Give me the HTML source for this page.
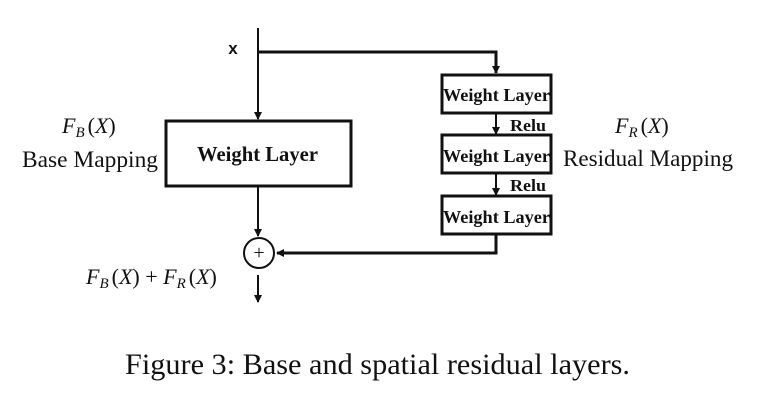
<!DOCTYPE html>
<html><head><style>body{margin:0;background:#fff}</style></head><body>
<svg width="761" height="405" xmlns="http://www.w3.org/2000/svg" style="display:block">
<defs><marker id="a" markerWidth="8" markerHeight="8" refX="7" refY="4" orient="auto" markerUnits="userSpaceOnUse"><path d="M0,0 L8,4 L0,8 z" fill="#111"/></marker></defs>
<g stroke="#111" fill="none">
<line x1="258" y1="28" x2="258" y2="119" stroke-width="2" marker-end="url(#a)"/>
<polyline points="258,52 496,52 496,73" stroke-width="3" marker-end="url(#a)"/>
<rect x="166" y="121" width="185" height="65" stroke-width="3"/>
<rect x="442" y="75" width="109" height="38" stroke-width="3"/>
<rect x="442" y="135" width="109" height="38" stroke-width="3"/>
<rect x="442" y="196" width="109" height="38" stroke-width="3"/>
<line x1="496" y1="113" x2="496" y2="134" stroke-width="2" marker-end="url(#a)"/>
<line x1="496" y1="173" x2="496" y2="195" stroke-width="2" marker-end="url(#a)"/>
<line x1="258" y1="186" x2="258" y2="236" stroke-width="2" marker-end="url(#a)"/>
<polyline points="496,234 496,253 277,253" stroke-width="3" marker-end="url(#a)"/>
<circle cx="259" cy="253" r="15" stroke-width="2"/>
<line x1="258" y1="275" x2="258" y2="302" stroke-width="2" marker-end="url(#a)"/>
</g>
<g font-family="Liberation Serif, serif" fill="#111">
<text x="259" y="259" font-size="20" text-anchor="middle">+</text>
<text x="233" y="54" font-family="Liberation Sans, sans-serif" font-weight="bold" font-size="17" text-anchor="middle">x</text>
<text x="197" y="161" font-weight="bold" font-size="21" textLength="121" lengthAdjust="spacingAndGlyphs">Weight Layer</text>
<text x="443" y="101" font-weight="bold" font-size="18" textLength="107" lengthAdjust="spacingAndGlyphs">Weight Layer</text>
<text x="443" y="162" font-weight="bold" font-size="18" textLength="107" lengthAdjust="spacingAndGlyphs">Weight Layer</text>
<text x="443" y="223" font-weight="bold" font-size="18" textLength="107" lengthAdjust="spacingAndGlyphs">Weight Layer</text>
<text x="510" y="131" font-weight="bold" font-size="17" textLength="36" lengthAdjust="spacingAndGlyphs">Relu</text>
<text x="510" y="191" font-weight="bold" font-size="17" textLength="36" lengthAdjust="spacingAndGlyphs">Relu</text>
<text x="62" y="133" font-size="22" font-style="italic">F<tspan font-size="15" dy="4">B</tspan><tspan dy="-4" font-style="normal" dx="3">(</tspan>X<tspan font-style="normal">)</tspan></text>
<text x="22" y="167" font-size="23" textLength="136" lengthAdjust="spacingAndGlyphs">Base Mapping</text>
<text x="615" y="133" font-size="22" font-style="italic">F<tspan font-size="15" dy="4">R</tspan><tspan dy="-4" font-style="normal" dx="3">(</tspan>X<tspan font-style="normal">)</tspan></text>
<text x="563" y="166" font-size="23" textLength="170" lengthAdjust="spacingAndGlyphs">Residual Mapping</text>
<text x="86" y="284" font-size="22" font-style="italic">F<tspan font-size="15" dy="4">B</tspan><tspan dy="-4" font-style="normal" dx="3">(</tspan>X<tspan font-style="normal">) + </tspan>F<tspan font-size="15" dy="4">R</tspan><tspan dy="-4" font-style="normal" dx="3">(</tspan>X<tspan font-style="normal">)</tspan></text>
<text x="125" y="374" font-size="30" textLength="505" lengthAdjust="spacingAndGlyphs">Figure 3: Base and spatial residual layers.</text>
</g>
</svg>
</body></html>
